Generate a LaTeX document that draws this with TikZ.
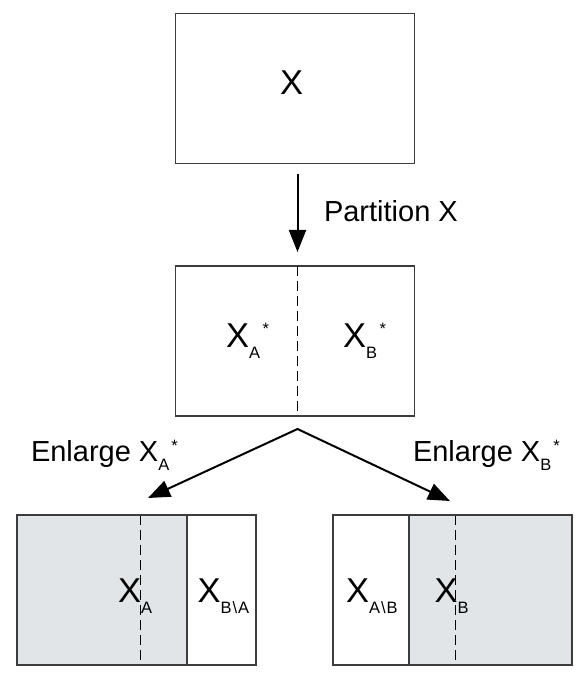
\documentclass[tikz,border=0pt]{standalone}
\usepackage{fontspec}
\setmainfont{Liberation Sans}
\usetikzlibrary{arrows.meta}
\definecolor{boxfill}{RGB}{225,229,232}
\definecolor{edge}{RGB}{60,60,60}
\newcommand{\bigfont}{\fontsize{34.5}{40}\selectfont}
\newcommand{\lblfont}{\fontsize{29}{34}\selectfont}
\newcommand{\subfont}{\fontsize{16.5}{18}\selectfont}
\begin{document}
\begin{tikzpicture}[x=1pt,y=-1pt,
  boxshape/.style={minimum width=239pt, minimum height=150pt, inner sep=0pt, outer sep=0pt},
  box/.style={boxshape, draw=edge, line width=1.2pt},
  boxline/.style={draw=edge, line width=1.2pt},
  dashline/.style={draw=black, line width=0.9pt, dash pattern=on 10pt off 5pt},
  arr/.style={line width=2pt, line join=miter, -{Triangle[length=22pt,width=17pt]}},
  txt/.style={inner sep=0pt, outer sep=0pt, anchor=base west}]
\useasboundingbox (0,0) rectangle (582,692);
\fill[white] (0,0) rectangle (582,692);

% top box
\node[box] (top) at (295,88.5) {};
\node[txt] (topX) at (280,95) {\bigfont X};

% middle box
\node[box] (mid) at (295,341) {};
\coordinate (split) at (297.5,341);
\draw[dashline] (split |- mid.north) -- (split |- mid.south);
\node[txt] (xas) at (226,347) {\bigfont X\raisebox{-11.5pt}{\subfont A}\kern2.5pt\raisebox{12.5pt}{\subfont *}};
\node[txt] (xbs) at (343,347) {\bigfont X\raisebox{-11.5pt}{\subfont B}\kern2.5pt\raisebox{12.5pt}{\subfont *}};

% arrow top -> mid
\draw[arr, shorten <=11pt, shorten >=14pt] (top.south -| split) -- (mid.north -| split);
\node[txt] (part) at (324,222) {\lblfont Partition X};

% bottom left box
\node[boxshape] (left) at (136.5,590) {};
\coordinate (divL) at (187,590);
\coordinate (dL) at (140,590);
\fill[boxfill] (left.north west) rectangle (divL |- left.south);
\draw[boxline] (divL |- left.north) -- (divL |- left.south);
\draw[dashline] (dL |- left.north) -- (dL |- left.south);
\draw[boxline] (left.north west) rectangle (left.south east);
\node[txt] (xa) at (118,602) {\bigfont X\raisebox{-11.5pt}{\subfont A}};
\node[txt] (xba) at (197.5,602) {\bigfont X\raisebox{-11.5pt}{\subfont B\kern1pt\textbackslash\kern1pt A}};

% bottom right box
\node[boxshape] (right) at (452.5,590) {};
\coordinate (divR) at (409,590);
\coordinate (dR) at (455.5,590);
\fill[boxfill] (divR |- right.north) rectangle (right.south east);
\draw[boxline] (divR |- right.north) -- (divR |- right.south);
\draw[dashline] (dR |- right.north) -- (dR |- right.south);
\draw[boxline] (right.north west) rectangle (right.south east);
\node[txt] (xab) at (346,602) {\bigfont X\raisebox{-11.5pt}{\subfont A\kern1pt\textbackslash\kern1pt B}};
\node[txt] (xb) at (434.5,602) {\bigfont X\raisebox{-11.5pt}{\subfont B}};

% enlarge arrows
\coordinate (apex) at (297.5,429);
\coordinate (tipL) at (148,498);
\coordinate (tipR) at (450,501);
\draw[line width=2pt, line join=miter, {Triangle[length=22pt,width=17pt]}-{Triangle[length=22pt,width=17pt]}] (tipL) -- (apex) -- (tipR);
\node[txt] (enA) at (31,461) {\lblfont Enlarge X\raisebox{-9pt}{\subfont A}\kern2pt\raisebox{9.5pt}{\subfont *}};
\node[txt] (enB) at (413,461) {\lblfont Enlarge X\raisebox{-9pt}{\subfont B}\kern2pt\raisebox{9.5pt}{\subfont *}};
\end{tikzpicture}
\end{document}
